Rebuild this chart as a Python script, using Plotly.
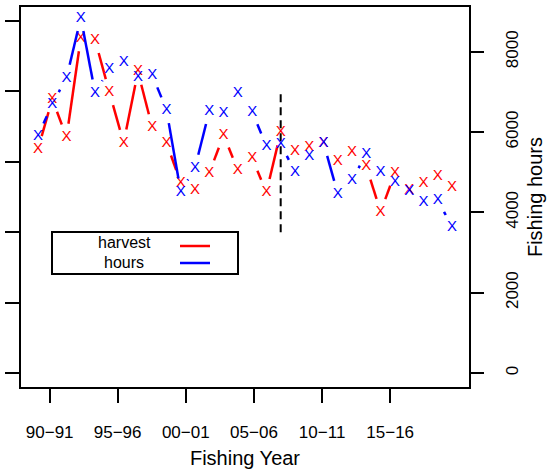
import math
import plotly.graph_objects as go

# ---------------- data ----------------
fishing_years = ["1989-90", "1990-91", "1991-92", "1992-93", "1993-94", "1994-95",
                 "1995-96", "1996-97", "1997-98", "1998-99", "1999-00", "2000-01",
                 "2001-02", "2002-03", "2003-04", "2004-05", "2005-06", "2006-07",
                 "2007-08", "2008-09", "2009-10", "2010-11", "2011-12", "2012-13",
                 "2013-14", "2014-15", "2015-16", "2016-17", "2017-18", "2018-19"]
harvest = [318, 389, 335, 476, 473, 399, 327, 428, 349, 327,
           270, 260, 284, 338, 288, 305, 257, 342, 315, 320,
           327, 301, 313, 293, 229, 284, 260, 270, 280, 264]
hours = [5906, 6703, 7351, 8847, 6978, 7576, 7750, 7376, 7426, 6554,
         4511, 5109, 6529, 6479, 6978, 6504, 5657, 5707, 5009, 5408,
         5732, 4461, 4810, 5458, 5009, 4760, 4535, 4261, 4311, 3638]
tick_labels = ["90\u221291", "95\u221296", "00\u221201", "05\u221206", "10\u221211", "15\u221216"]
tick_pos = [0.82, 5.58, 10.35, 15.13, 19.90, 24.67]
harvest_ticks = [0, 100, 200, 300, 400, 500]
hours_ticks = [0, 2000, 4000, 6000, 8000]
break_index = 17
break_span = [200, 400]

# ---------------- layout constants ----------------
W, H = 548, 469
ML, MR, MT, MB = 21, 79, 7, 82
PW, PH = W - ML - MR, H - MT - MB
x_range = [-1.19, 30.19]
yl_range = [-19.9, 519.9]
yr_range = [-349, 9116]
GAP = 13.5
FONT = "Liberation Sans, Arial, sans-serif"

x_idx = list(range(len(fishing_years)))


def gapped(xs, ys, yr):
    sx = PW / (x_range[1] - x_range[0])
    sy = PH / (yr[1] - yr[0])
    ox, oy = [], []
    for i in range(len(xs) - 1):
        dx = (xs[i + 1] - xs[i]) * sx
        dy = (ys[i + 1] - ys[i]) * sy
        d = math.hypot(dx, dy)
        if d <= 2 * GAP:
            continue
        f = GAP / d
        ox += [xs[i] + (xs[i + 1] - xs[i]) * f, xs[i + 1] - (xs[i + 1] - xs[i]) * f, None]
        oy += [ys[i] + (ys[i + 1] - ys[i]) * f, ys[i + 1] - (ys[i + 1] - ys[i]) * f, None]
    return ox, oy


fig = go.Figure()

hx, hy = gapped(x_idx, harvest, yl_range)
fig.add_trace(go.Scatter(x=hx, y=hy, mode="lines", line=dict(color="#ff0000", width=2.5),
                         showlegend=False, hoverinfo="skip"))
fig.add_trace(go.Scatter(x=x_idx, y=harvest, mode="text", text=["X"] * len(harvest),
                         textposition="middle center",
                         textfont=dict(family=FONT, size=15, color="#ff0000"),
                         customdata=fishing_years, showlegend=False))

bx, by = gapped(x_idx, hours, yr_range)
fig.add_trace(go.Scatter(x=bx, y=by, mode="lines", line=dict(color="#0000ff", width=2.5),
                         yaxis="y2", showlegend=False, hoverinfo="skip"))
fig.add_trace(go.Scatter(x=x_idx, y=hours, mode="text", text=["X"] * len(hours),
                         textposition="middle center",
                         textfont=dict(family=FONT, size=15, color="#0000ff"),
                         customdata=fishing_years, yaxis="y2", showlegend=False))

# vertical dashed break line
fig.add_trace(go.Scatter(x=[break_index, break_index], y=break_span, mode="lines",
                         line=dict(color="black", width=2, dash="8px,5px"),
                         showlegend=False, hoverinfo="skip"))

axis_common = dict(showgrid=False, zeroline=False, ticks="outside", ticklen=14,
                   tickwidth=2, tickcolor="black", color="black", automargin=False)

fig.update_layout(
    width=W, height=H,
    margin=dict(l=ML, r=MR, t=MT, b=MB, pad=0, autoexpand=False),
    paper_bgcolor="white", plot_bgcolor="white",
    font=dict(family=FONT, color="black"),
    xaxis=dict(range=x_range, tickmode="array", tickvals=tick_pos, ticktext=tick_labels,
               showline=True, linewidth=2, linecolor="black", mirror=True,
               tickfont=dict(size=17), ticklabelstandoff=15,
               title=dict(text="Fishing Year", font=dict(size=20), standoff=10),
               **axis_common),
    yaxis=dict(range=yl_range, tickmode="array", tickvals=harvest_ticks,
               showticklabels=False, showline=True, linewidth=2, linecolor="black",
               mirror=True, **axis_common),
    yaxis2=dict(range=yr_range, overlaying="y", side="right", tickmode="array",
                tickvals=hours_ticks, tickangle=-90, tickfont=dict(size=17),
                ticklabelstandoff=14, showline=False,
                title=dict(text="Fishing hours", font=dict(size=20), standoff=6),
                **axis_common),
)


def px_x(p):
    return (p - ML) / PW


def px_y(p):
    return (H - MB - p) / PH


# legend box
fig.add_shape(type="rect", xref="paper", yref="paper",
              x0=px_x(52), x1=px_x(238), y0=px_y(274), y1=px_y(232),
              line=dict(color="black", width=2), fillcolor="white", layer="above")
fig.add_shape(type="line", xref="paper", yref="paper",
              x0=px_x(180), x1=px_x(210), y0=px_y(246), y1=px_y(246),
              line=dict(color="#ff0000", width=2.5))
fig.add_shape(type="line", xref="paper", yref="paper",
              x0=px_x(180), x1=px_x(210), y0=px_y(263), y1=px_y(263),
              line=dict(color="#0000ff", width=2.5))
for label, yy in [("harvest", 243), ("hours", 262)]:
    fig.add_annotation(text=label, xref="paper", yref="paper", x=px_x(124), y=px_y(yy),
                       showarrow=False, xanchor="center", yanchor="middle",
                       font=dict(family=FONT, size=16, color="black"))

fig.write_html("out.html", config={"displayModeBar": False},
               post_script="document.body.style.margin='0';document.body.style.overflow='hidden';")
